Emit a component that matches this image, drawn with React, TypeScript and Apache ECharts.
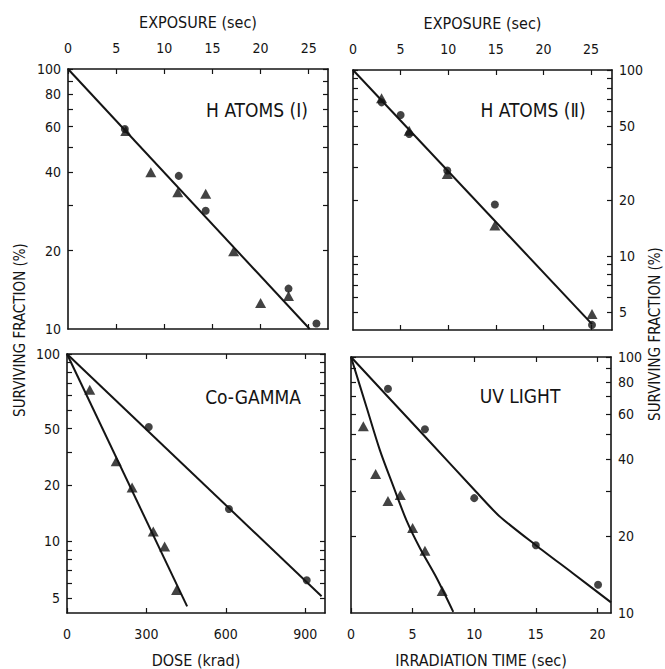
import React, { useEffect, useRef } from "react";
import * as echarts from "echarts";

// ---------- data ----------
// Panel 1: H ATOMS (I) — exposure (sec) vs surviving fraction (%)
const p1CircleX = [5.9, 11.5, 14.3, 22.9, 25.8];
const p1CircleY = [58.8, 38.8, 28.5, 14.3, 10.5];
const p1TriX = [6.0, 8.6, 11.4, 14.3, 17.2, 20.0, 22.9];
const p1TriY = [57.8, 40.1, 33.6, 33.1, 19.9, 12.6, 13.4];
const p1FitX = [0, 25.1];
const p1FitY = [100, 10];

// Panel 2: H ATOMS (II)
const p2CircleX = [3.0, 5.0, 5.9, 9.9, 14.9, 25.1];
const p2CircleY = [67.0, 57.3, 45.3, 28.8, 18.9, 4.26];
const p2TriX = [3.0, 5.9, 9.9, 14.9, 25.1];
const p2TriY = [70.4, 47.2, 27.6, 14.6, 4.88];
const p2FitX = [0, 25.1];
const p2FitY = [100, 4.3];

// Panel 3: Co-GAMMA — dose (krad)
const p3CircleX = [309, 612, 906];
const p3CircleY = [40.8, 14.9, 6.2];
const p3TriX = [86, 186, 246, 326, 369, 414];
const p3TriY = [64.4, 26.8, 19.4, 11.3, 9.4, 5.5];
const p3FitCircleX = [0, 962];
const p3FitCircleY = [100, 5.1];
const p3FitTriX = [0, 454];
const p3FitTriY = [100, 4.5];

// Panel 4: UV LIGHT — irradiation time (sec)
const p4CircleX = [3.0, 6.0, 10.0, 15.0, 20.05];
const p4CircleY = [75.1, 52.2, 28.1, 18.4, 12.9];
const p4TriX = [1.0, 2.0, 3.0, 4.0, 5.0, 6.0, 7.4];
const p4TriY = [53.6, 34.9, 27.4, 28.9, 21.5, 17.5, 12.2];
const p4CurveCircleX = [0, 6, 10, 12, 15, 18, 21.1];
const p4CurveCircleY = [100, 48.9, 30.3, 24.0, 18.4, 14.3, 11.0];
const p4CurveTriX = [0, 1.27, 2.35, 3.43, 4.52, 5.6, 6.95, 8.3];
const p4CurveTriY = [100, 63.5, 43.2, 31.3, 22.9, 17.9, 13.7, 10.1];

// tick labels
const xTicks12 = [0, 5, 10, 15, 20, 25];
const xTicks3 = [0, 300, 600, 900];
const xTicks4 = [0, 5, 10, 15, 20];
const yLabels1 = [10, 20, 40, 60, 80, 100];
const yLabels2 = [5, 10, 20, 50, 100];
const yLabels3Values = [5, 10, 20, 40, 100];
const yLabels3Text = ["5", "10", "20", "50", "100"];
const yLabels4 = [10, 20, 40, 60, 80, 100];
const yMinorUpper = [20, 30, 40, 50, 60, 70, 80, 90, 100];
const yMinorFull = [5, 6, 7, 8, 9, 10, 20, 30, 40, 50, 60, 70, 80, 90, 100];

const zip = (xs: number[], ys: number[]) => xs.map((x, i) => [x, ys[i]]);

const FONT = "'DejaVu Sans Condensed', 'Liberation Sans Narrow', 'Roboto', sans-serif";
const INK = "#141414";

export default function App() {
  const ref = useRef<HTMLDivElement>(null);

  useEffect(() => {
    if (!ref.current) return;
    const chart = echarts.init(ref.current, undefined, { renderer: "svg" });

    const grids = [
      { left: 68, top: 69, width: 260, height: 260 },
      { left: 353, top: 70, width: 259, height: 260 },
      { left: 67, top: 354, width: 258, height: 261 },
      { left: 351, top: 357, width: 260, height: 258 },
    ];

    const axisLine = { show: true, onZero: false, lineStyle: { color: INK, width: 1.6 } };
    const tickStyle = (vals: number[]) => ({
      show: true,
      inside: true,
      length: 5,
      customValues: vals,
      lineStyle: { color: INK, width: 1.2 },
    });
    const labelStyle = {
      color: INK,
      fontSize: 14,
      fontFamily: FONT,
    };
    const nameStyle = { color: INK, fontSize: 16, fontFamily: FONT };

    const xAxisPair = (
      gi: number,
      min: number,
      max: number,
      ticks: number[],
      pos: "top" | "bottom",
      name: string,
    ) => [
      {
        type: "value",
        gridIndex: gi,
        min,
        max,
        position: pos,
        name,
        nameLocation: "middle",
        nameGap: 39,
        nameTextStyle: nameStyle,
        axisLine,
        axisTick: tickStyle(ticks),
        axisLabel: { ...labelStyle, margin: 14, customValues: ticks },
        splitLine: { show: false },
      },
      {
        type: "value",
        gridIndex: gi,
        min,
        max,
        position: pos === "top" ? "bottom" : "top",
        axisLine,
        axisTick: tickStyle(ticks.filter((t) => t !== 0)),
        axisLabel: { show: false },
        splitLine: { show: false },
      },
    ];

    const yAxisPair = (
      gi: number,
      min: number,
      max: number,
      labelVals: number[],
      labelText: string[] | null,
      ticks: number[],
      pos: "left" | "right",
    ) => [
      {
        type: "log",
        logBase: 10,
        gridIndex: gi,
        min,
        max,
        position: pos,
        axisLine,
        axisTick: tickStyle(ticks),
        axisLabel: {
          ...labelStyle,
          margin: 7,
          customValues: labelVals,
          formatter: (v: number) => {
            if (!labelText) return String(Math.round(v));
            const idx = labelVals.findIndex((lv) => Math.abs(lv - v) < 1e-6 * lv);
            return idx >= 0 ? labelText[idx] : String(Math.round(v));
          },
        },
        splitLine: { show: false },
        minorTick: { show: false },
      },
      {
        type: "log",
        logBase: 10,
        gridIndex: gi,
        min,
        max,
        position: pos === "left" ? "right" : "left",
        axisLine,
        axisTick: tickStyle(ticks),
        axisLabel: { show: false },
        splitLine: { show: false },
        minorTick: { show: false },
      },
    ];

    const xAxes = [
      ...xAxisPair(0, 0, 27, xTicks12, "top", "EXPOSURE (sec)"),
      ...xAxisPair(1, 0, 27.2, xTicks12, "top", "EXPOSURE (sec)"),
      ...xAxisPair(2, 0, 975, xTicks3, "bottom", "DOSE (krad)"),
      ...xAxisPair(3, 0, 21.1, xTicks4, "bottom", "IRRADIATION TIME (sec)"),
    ];
    const yAxes = [
      ...yAxisPair(0, 10, 100, yLabels1, null, yMinorUpper, "left"),
      ...yAxisPair(1, 4, 100, yLabels2, null, yMinorFull, "right"),
      ...yAxisPair(2, 4.15, 100, yLabels3Values, yLabels3Text, yMinorFull, "left"),
      ...yAxisPair(3, 10, 100, yLabels4, null, yMinorUpper, "right"),
    ];

    const circle = (gi: number, xs: number[], ys: number[]) => ({
      type: "scatter",
      xAxisIndex: gi * 2,
      yAxisIndex: gi * 2,
      symbol: "circle",
      symbolSize: 8,
      itemStyle: { color: INK },
      data: zip(xs, ys),
      z: 4,
    });
    const tri = (gi: number, xs: number[], ys: number[]) => ({
      type: "scatter",
      xAxisIndex: gi * 2,
      yAxisIndex: gi * 2,
      symbol: "triangle",
      symbolSize: [11, 10],
      itemStyle: { color: INK },
      data: zip(xs, ys),
      z: 4,
    });
    const fit = (gi: number, xs: number[], ys: number[], smooth = 0) => ({
      type: "line",
      xAxisIndex: gi * 2,
      yAxisIndex: gi * 2,
      symbol: "none",
      showSymbol: false,
      smooth,
      lineStyle: { color: INK, width: 2 },
      data: zip(xs, ys),
      z: 3,
    });

    const series = [
      fit(0, p1FitX, p1FitY),
      circle(0, p1CircleX, p1CircleY),
      tri(0, p1TriX, p1TriY),
      fit(1, p2FitX, p2FitY),
      circle(1, p2CircleX, p2CircleY),
      tri(1, p2TriX, p2TriY),
      fit(2, p3FitCircleX, p3FitCircleY),
      fit(2, p3FitTriX, p3FitTriY),
      circle(2, p3CircleX, p3CircleY),
      tri(2, p3TriX, p3TriY),
      fit(3, p4CurveCircleX, p4CurveCircleY, 0.25),
      fit(3, p4CurveTriX, p4CurveTriY, 0.3),
      circle(3, p4CircleX, p4CircleY),
      tri(3, p4TriX, p4TriY),
    ];

    const label = (text: string, x: number, y: number, size = 19, rotation = 0) => ({
      type: "text",
      x,
      y,
      rotation,
      style: {
        text,
        fill: INK,
        fontSize: size,
        fontFamily: FONT,
        align: "center",
        verticalAlign: "middle",
      },
      z: 10,
    });

    chart.setOption({
      animation: false,
      backgroundColor: "#ffffff",
      textStyle: { fontFamily: FONT, color: INK },
      grid: grids,
      xAxis: xAxes,
      yAxis: yAxes,
      series,
      graphic: [
        label("H ATOMS (\u2160)", 257, 110),
        label("H ATOMS (\u2161)", 533, 110),
        label("Co-GAMMA", 253, 397),
        label("UV LIGHT", 520, 396),
        label("SURVIVING FRACTION (%)", 20, 330, 15, Math.PI / 2),
        label("SURVIVING FRACTION (%)", 655, 334, 15, Math.PI / 2),
      ],
    });

    return () => chart.dispose();
  }, []);

  return (
    <div
      ref={ref}
      style={{ position: "absolute", left: 0, top: 0, width: 665, height: 669 }}
    />
  );
}
